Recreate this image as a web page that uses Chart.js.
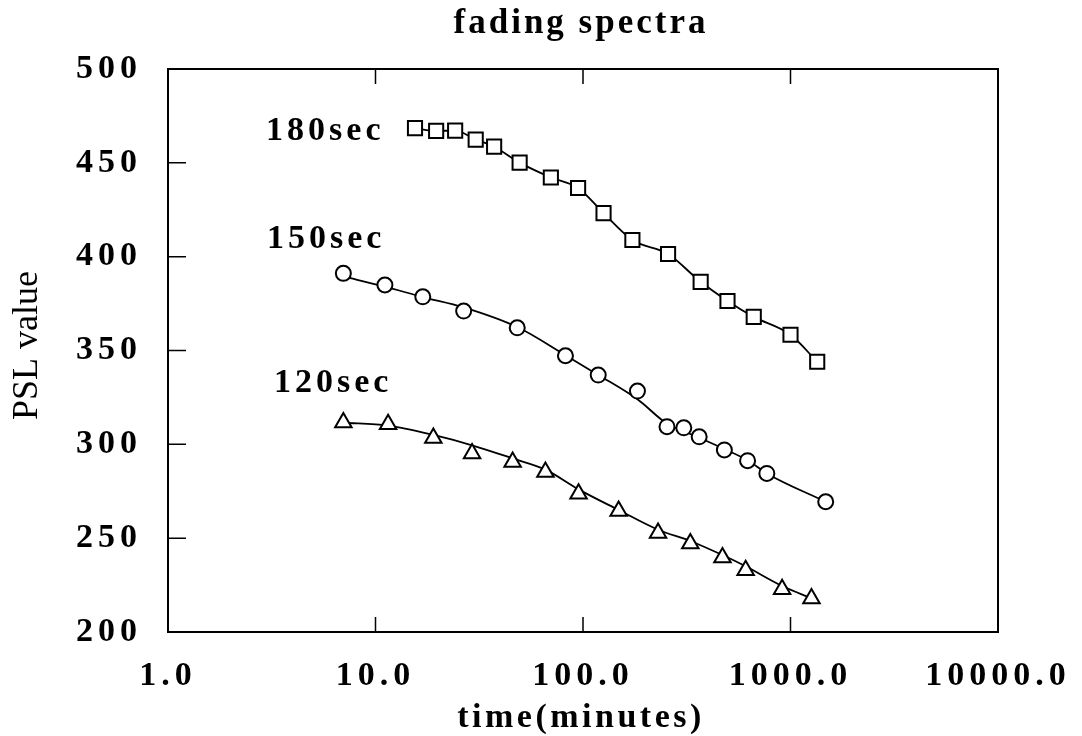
<!DOCTYPE html>
<html>
<head>
<meta charset="utf-8">
<title>fading spectra</title>
<script src="https://cdn.jsdelivr.net/npm/chart.js@4.4.1/dist/chart.umd.min.js"></script>
<style>
  html, body { margin: 0; padding: 0; background: #fff; }
</style>
</head>
<body>
<canvas id="myChart" width="1082" height="736"></canvas>
<script>
// axis ticks
const xTicks = [1, 10, 100, 1000, 10000];
const xTickLabels = ['1.0', '10.0', '100.0', '1000.0', '10000.0'];
const yTicks = [200, 250, 300, 350, 400, 450, 500];

// 180 sec exposure (squares)
const time180 = [15.5, 19.6, 24.2, 30.4, 37.3, 49.5, 70, 94.7, 125.6, 173, 257, 369, 497, 665, 1000, 1345];
const psl180 = [468.5, 467, 467.2, 462.4, 458.6, 450.1, 442.2, 436.6, 423.2, 408.9, 401.4, 386.6, 376.4, 367.9, 358.4, 344];

// 150 sec exposure (circles)
const time150 = [7.0, 11.1, 16.9, 26.6, 48.2, 82.3, 118.4, 183, 254, 306, 363, 480, 621, 769, 1478];
const psl150 = [391.1, 384.9, 378.6, 371.0, 362.1, 347.2, 336.9, 328.4, 309.4, 308.8, 304, 297, 291.3, 284.5, 269.4];
const fit150 = [389.5, 384, 378.5, 373, 362.5, 347.5, 337, 324, 311, 307, 303.5, 297.5, 291.5, 284.5, 269.4];

// 120 sec exposure (triangles)
const time120 = [7.0, 11.5, 19.0, 29.2, 45.8, 65.9, 95.2, 148.5, 230, 329, 470, 608, 911, 1262];
const psl120 = [311.6, 310.7, 303.4, 295.1, 290.6, 285.3, 273.7, 264.5, 252.8, 247.1, 239.7, 232.9, 222.8, 217.8];
const fit120 = [311.5, 310, 305, 299.5, 292.5, 286.5, 276, 265, 254.5, 248.5, 241, 235, 224.5, 218];

const seriesNames = ['180sec', '150sec', '120sec'];

function pts(xs, ys) {
  return xs.map(function(x, i) { return { x: x, y: ys[i] }; });
}

window.onload = function() {
  var ctx = document.getElementById('myChart').getContext('2d');
  Chart.defaults.font.family = '"Liberation Serif", "DejaVu Serif", serif';
  Chart.defaults.color = '#000';

  // where the series names sit (left edge, baseline) in data units
  const labelAnchors = [[2.97, 462], [3.0, 404.6], [3.24, 328]];

  const framePlugin = {
    id: 'frame',
    beforeDraw: function(chart) {
      chart.ctx.letterSpacing = '5px';
    },
    afterDraw: function(chart) {
      const c = chart.ctx, a = chart.chartArea;
      const xs = chart.scales.x, ys = chart.scales.y;
      c.save();
      c.strokeStyle = '#000';
      c.lineWidth = 2;
      c.strokeRect(a.left, a.top, a.right - a.left, a.bottom - a.top);

      // inward tick marks
      c.lineWidth = 1.5;
      c.beginPath();
      yTicks.forEach(function(v) {
        if (v > ys.min && v < ys.max) {
          const y = ys.getPixelForValue(v);
          c.moveTo(a.left, y); c.lineTo(a.left + 18, y);
        }
      });
      xTicks.forEach(function(v) {
        if (v > xs.min && v < xs.max) {
          const x = xs.getPixelForValue(v);
          c.moveTo(x, a.bottom); c.lineTo(x, a.bottom - 15);
          c.moveTo(x, a.top); c.lineTo(x, a.top + 15);
        }
      });
      c.stroke();

      c.fillStyle = '#000';
      // title
      c.letterSpacing = '3px';
      c.font = 'bold 35px "Liberation Serif"';
      c.textAlign = 'center';
      c.textBaseline = 'alphabetic';
      c.fillText('fading spectra', (a.left + a.right) / 2 - 2, a.top - 36);

      // x axis title
      c.letterSpacing = '3.5px';
      c.font = 'bold 34px "Liberation Serif"';
      c.fillText('time(minutes)', (a.left + a.right) / 2 - 2, 727);

      // y axis title
      c.letterSpacing = '0px';
      c.font = '36px "Liberation Serif"';
      c.save();
      c.translate(37, (a.top + a.bottom) / 2 - 5);
      c.rotate(-Math.PI / 2);
      c.fillText('PSL value', 0, 0);
      c.restore();

      // series names
      c.letterSpacing = '4px';
      c.font = 'bold 34px "Liberation Serif"';
      c.textAlign = 'left';
      seriesNames.forEach(function(name, i) {
        c.fillText(name, xs.getPixelForValue(labelAnchors[i][0]), ys.getPixelForValue(labelAnchors[i][1]));
      });
      c.restore();
    }
  };

  const marker = function(data, style, r) {
    return {
      data: data, showLine: false, order: 0,
      pointStyle: style, pointRadius: r, pointHoverRadius: r,
      pointBorderColor: '#000', pointBackgroundColor: '#fff', pointBorderWidth: 2
    };
  };
  const curve = function(data) {
    return {
      data: data, showLine: true, order: 1, pointRadius: 0,
      borderColor: '#000', borderWidth: 1.8, cubicInterpolationMode: 'monotone'
    };
  };

  new Chart(ctx, {
    type: 'scatter',
    data: {
      datasets: [
        marker(pts(time180, psl180), 'rect', 10),
        marker(pts(time150, psl150), 'circle', 7.5),
        marker(pts(time120, psl120), 'triangle', 9.5),
        curve(pts(time180, psl180)),
        curve(pts(time150, fit150)),
        curve(pts(time120, fit120))
      ]
    },
    options: {
      responsive: false,
      animation: false,
      layout: { padding: { left: 0, right: 84, top: 69, bottom: 0 } },
      plugins: { legend: { display: false }, tooltip: { enabled: false } },
      scales: {
        x: {
          type: 'logarithmic',
          min: 1, max: 10000,
          grid: { display: false, drawTicks: false },
          border: { display: false },
          afterFit: function(s) { s.height = 104; },
          afterBuildTicks: function(s) { s.ticks = xTicks.map(function(v) { return { value: v }; }); },
          ticks: {
            autoSkip: false, maxRotation: 0, padding: 24,
            font: { size: 34, weight: 'bold' },
            callback: function(v) { return xTickLabels[xTicks.indexOf(v)]; }
          }
        },
        y: {
          min: 200, max: 500,
          grid: { display: false, drawTicks: false },
          border: { display: false },
          afterFit: function(s) { s.width = 168; },
          afterBuildTicks: function(s) { s.ticks = yTicks.map(function(v) { return { value: v }; }); },
          ticks: { padding: 26, font: { size: 34, weight: 'bold' } }
        }
      }
    },
    plugins: [framePlugin]
  });
};
</script>
</body>
</html>
